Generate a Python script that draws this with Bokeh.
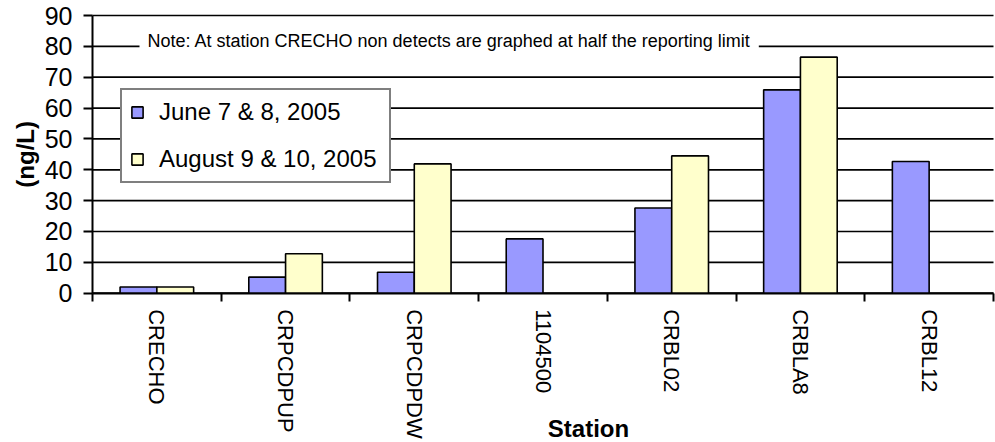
import math
import numpy as np
from bokeh.plotting import figure
from bokeh.models import (FixedTicker, Legend, LegendItem, Label, Range1d, ColumnDataSource)
from bokeh.embed import file_html
from bokeh.resources import INLINE

stations = ["CRECHO", "CRPCDPUP", "CRPCDPDW", "1104500", "CRBL02", "CRBLA8", "CRBL12"]
june = [2.0, 5.2, 6.8, 17.6, 27.6, 65.9, 42.7]
august = [2.0, 12.8, 41.9, None, 44.5, 76.5, None]
series_names = ["June 7 & 8, 2005", "August 9 & 10, 2005"]
y_ticks = [0, 10, 20, 30, 40, 50, 60, 70, 80, 90]
note = "Note: At station CRECHO non detects are graphed at half the reporting limit"

FONT = "Liberation Sans"
n = len(stations)
bar_w = 1 / 3.5
y_max = y_ticks[-1]

# The frame covers the whole canvas; axes sit at fixed locations inside it,
# so that every text (including the axis titles) can be drawn as annotations.
W, H = 995, 442
left_px, right_px, top_px, zero_px = 92.0, 993.0, 15.0, 292.7
ux = (right_px - left_px) / n
uy = (zero_px - top_px) / y_max
x_range = Range1d(-left_px / ux, n + (W - right_px) / ux)
y_range = Range1d(-(H - zero_px) / uy, y_max + top_px / uy)

p = figure(width=W, height=H, output_backend="svg", toolbar_location=None,
           x_range=x_range, y_range=y_range,
           min_border=0, min_border_left=0, min_border_right=0,
           min_border_top=0, min_border_bottom=0)
p.outline_line_color = None
p.background_fill_color = "white"
p.border_fill_color = "white"

# horizontal gridlines, only across the category span
p.segment(x0=[0] * len(y_ticks), x1=[n] * len(y_ticks), y0=y_ticks, y1=y_ticks,
          line_color="black", line_width=1.7)

def build(vals, shift):
    xs, tops = [], []
    for i, v in enumerate(vals):
        if v is not None:
            xs.append(i + 0.5 + shift)
            tops.append(v)
    return ColumnDataSource(dict(x=xs, top=tops))

r1 = p.vbar(x="x", top="top", width=bar_w, source=build(june, -bar_w / 2),
            fill_color="#9999FF", line_color="black", line_width=1.6)
r2 = p.vbar(x="x", top="top", width=bar_w, source=build(august, bar_w / 2),
            fill_color="#FFFFCC", line_color="black", line_width=1.6)

# x axis
p.xaxis.fixed_location = 0
p.xaxis.bounds = (0, n)
p.xaxis.ticker = FixedTicker(ticks=[i + 0.5 for i in range(n)], minor_ticks=list(range(n + 1)))
p.xaxis.major_label_overrides = {i + 0.5: s for i, s in enumerate(stations)}
p.xaxis.major_label_orientation = -math.pi / 2
p.xaxis.major_tick_out = 0
p.xaxis.major_tick_in = 0
p.xaxis.major_tick_line_color = None
p.xaxis.minor_tick_out = 8
p.xaxis.minor_tick_in = 0
p.xaxis.minor_tick_line_width = 2
p.xaxis.minor_tick_line_color = "black"
p.xaxis.axis_line_width = 2
p.xaxis.axis_line_color = "black"
p.xaxis.major_label_standoff = 8
p.xaxis.major_label_text_font = FONT
p.xaxis.major_label_text_font_size = "22px"
p.xaxis.major_label_text_color = "black"

# y axis
p.yaxis.fixed_location = 0
p.yaxis.bounds = (0, y_max)
p.yaxis.ticker = FixedTicker(ticks=y_ticks)
p.yaxis.minor_tick_line_color = None
p.yaxis.major_tick_out = 9
p.yaxis.major_tick_in = 0
p.yaxis.major_tick_line_width = 2
p.yaxis.major_tick_line_color = "black"
p.yaxis.axis_line_width = 2
p.yaxis.axis_line_color = "black"
p.yaxis.major_label_standoff = 11
p.yaxis.major_label_text_font = FONT
p.yaxis.major_label_text_font_size = "25px"
p.yaxis.major_label_text_color = "black"

p.xgrid.grid_line_color = None
p.ygrid.grid_line_color = None

# axis titles
p.add_layout(Label(x=-67 / ux, y=y_max / 2, text="(ng/L)", angle=math.pi / 2,
                   text_font=FONT, text_font_size="24px", text_font_style="bold",
                   text_color="black", text_baseline="middle", text_align="center"))
p.add_layout(Label(x=496 / ux, y=-(428 - zero_px) / uy, text="Station",
                   text_font=FONT, text_font_size="24px", text_font_style="bold",
                   text_color="black", text_baseline="middle", text_align="center"))

# note
p.add_layout(Label(x=47 / ux, y=81.6, text=note, text_font=FONT, text_font_size="18px",
                   text_color="black", text_baseline="middle", text_align="left",
                   background_fill_color="white", padding=8))

legend = Legend(items=[LegendItem(label=series_names[0], renderers=[r1]),
                       LegendItem(label=series_names[1], renderers=[r2])],
                location=(120, H - 182.7), padding=8, spacing=19, margin=0,
                glyph_width=14, glyph_height=14, label_standoff=15, label_width=222,
                label_height=28,
                label_text_font=FONT, label_text_font_size="24px", label_text_color="black",
                border_line_color="black", border_line_width=2,
                background_fill_color="white", background_fill_alpha=1.0)
p.add_layout(legend, "center")

open("out.html", "w").write(file_html(p, INLINE))
